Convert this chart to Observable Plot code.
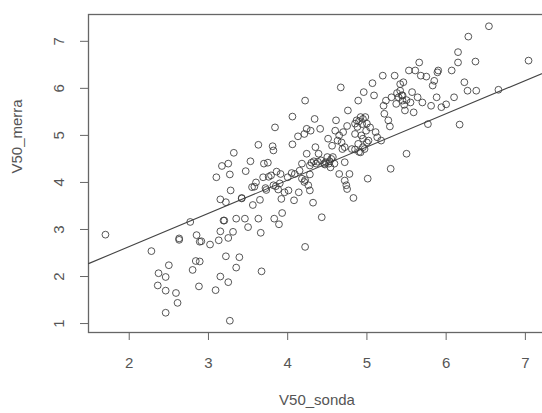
<!DOCTYPE html>
<html>
<head>
<meta charset="utf-8">
<script src="https://cdn.jsdelivr.net/npm/d3@7"></script>
<script src="https://cdn.jsdelivr.net/npm/@observablehq/plot@0.6"></script>
<style>
  html, body { margin: 0; padding: 0; background: #fff; overflow: hidden; }
  #chart { width: 542px; height: 413px; overflow: hidden; }
  #chart svg { overflow: hidden; }
</style>
</head>
<body>
<div id="chart"></div>
<script>
// V50_sonda (x) values
const sonda = [
  1.70, 2.28, 2.37, 2.46, 2.50, 2.36, 2.46, 2.46, 2.59, 2.61,
  2.63, 2.63, 2.77, 2.85, 2.89, 2.91, 2.80, 2.84, 2.89, 2.88,
  3.02, 3.10, 3.13, 3.15, 3.15, 3.17, 3.15, 3.09, 3.19, 3.20,
  3.22, 3.25, 3.27, 3.22, 3.25, 3.25, 3.28, 3.31, 3.27, 3.32,
  3.35, 3.35, 3.39, 3.42, 3.42, 3.46, 3.47, 3.50, 3.53, 3.56,
  3.58, 3.63, 3.63, 3.65, 3.66, 3.67, 3.69, 3.70, 3.73, 3.75,
  3.79, 3.81, 3.82, 3.84, 3.83, 3.82, 3.86, 3.88, 3.89, 3.91,
  3.93, 3.92, 3.96, 4.00, 4.01, 4.06, 4.06, 4.08, 4.09, 4.13,
  4.14, 4.18, 4.21, 4.21, 4.22, 4.22, 4.24, 4.24, 4.26, 4.28,
  4.28, 4.28, 4.29, 4.32, 4.34, 4.35, 4.36, 4.39, 4.41, 4.43,
  4.46, 4.48, 4.50, 4.51, 4.52, 4.54, 4.56, 4.57, 4.59, 4.61,
  4.63, 4.65, 4.67, 4.69, 4.70, 4.72, 4.72, 4.74, 4.75, 4.76,
  4.78, 4.81, 4.83, 4.85, 4.87, 4.89, 4.89, 4.92, 4.92, 4.94,
  4.95, 4.96, 4.97, 4.98, 4.99, 5.01, 5.02, 5.04, 5.07, 5.09,
  5.11, 5.13, 5.18, 5.20, 5.21, 5.22, 5.24, 5.27, 5.29, 5.30,
  5.31, 5.35, 5.37, 5.40, 5.42, 5.44, 5.45, 5.46, 5.48, 5.50,
  5.53, 5.57, 5.59, 5.61, 5.64, 5.66, 5.68, 5.70, 5.75, 5.77,
  5.81, 5.83, 5.85, 5.88, 5.90, 5.89, 5.94, 6.00, 6.07, 6.10,
  6.15, 6.15, 6.17, 6.23, 6.27, 6.28, 6.37, 6.38, 6.54, 6.66,
  7.04,
  4.30, 4.33, 4.38, 4.42, 4.47, 4.53, 4.55,
  4.85, 4.90, 4.95, 5.00, 4.88, 4.93, 5.00, 4.95, 4.90, 4.85,
  5.38, 5.42, 5.45, 5.50, 5.47, 5.55,
  4.18, 4.22, 4.15, 4.05,
  3.55, 3.60, 3.72, 3.76, 3.85, 3.90,
  4.65, 4.68, 4.72, 4.75, 4.60
];
// V50_merra (y) values
const merra = [
  2.89, 2.54, 2.07, 1.99, 2.24, 1.81, 1.70, 1.23, 1.65, 1.44,
  2.81, 2.78, 3.16, 2.88, 2.74, 2.75, 2.14, 2.33, 2.32, 1.79,
  2.68, 4.11, 2.77, 2.96, 3.64, 4.35, 2.00, 1.71, 3.19, 3.19,
  3.58, 4.40, 4.17, 2.43, 2.82, 1.88, 3.83, 2.95, 1.06, 4.63,
  2.19, 3.23, 2.41, 3.67, 3.66, 3.23, 4.24, 3.05, 4.45, 3.52,
  3.91, 4.80, 3.23, 3.63, 2.93, 2.11, 4.11, 4.40, 3.84, 4.42,
  4.15, 4.77, 4.68, 5.17, 3.23, 3.94, 4.23, 3.85, 3.11, 4.18,
  3.35, 3.65, 3.79, 4.11, 3.83, 4.81, 5.40, 3.62, 4.18, 4.98,
  3.79, 4.40, 5.03, 4.01, 5.74, 2.63, 5.14, 4.61, 3.94, 3.83,
  4.36, 4.17, 5.10, 3.57, 5.35, 4.75, 4.40, 4.61, 5.14, 3.26,
  4.40, 4.43, 4.54, 4.93, 4.40, 4.32, 4.78, 4.54, 4.40, 5.32,
  4.89, 4.18, 6.02, 4.71, 5.07, 4.43, 4.04, 3.94, 3.86, 5.53,
  4.18, 4.71, 3.67, 5.03, 5.32, 5.74, 4.82, 5.39, 4.64, 5.24,
  4.93, 5.92, 4.71, 5.39, 5.10, 4.08, 4.89, 5.17, 6.11, 5.85,
  5.07, 4.96, 4.89, 6.27, 5.63, 5.46, 5.74, 5.32, 5.19, 4.29,
  5.81, 6.27, 5.67, 5.81, 6.09, 5.85, 5.74, 6.13, 5.53, 4.61,
  6.38, 5.92, 5.49, 6.38, 5.81, 6.55, 6.27, 5.70, 6.25, 5.24,
  5.63, 6.06, 6.16, 5.81, 6.38, 6.34, 5.60, 5.66, 6.38, 5.81,
  6.77, 6.55, 5.23, 6.13, 5.95, 7.10, 6.57, 5.95, 7.32, 5.97,
  6.59,
  4.42, 4.45, 4.44, 4.47, 4.38, 4.45, 4.50,
  5.25, 5.30, 5.35, 5.25, 5.18, 5.00, 4.85, 4.75, 4.65, 4.70,
  5.90, 5.95, 5.85, 5.75, 5.65, 5.70,
  4.08, 4.05, 4.25, 4.20,
  3.90, 4.00, 3.88, 4.12, 3.92, 3.98,
  5.00, 4.85, 4.75, 5.20, 5.10
];
// fitted line (abline) coefficients
const lineCoef = [1.225, 0.706]; // intercept, slope
const xTicks = [2, 3, 4, 5, 6, 7];
const yTicks = [1, 2, 3, 4, 5, 6, 7];
const xTitle = "V50_sonda";
const yTitle = "V50_merra";

const points = sonda.map((x, i) => ({x, y: merra[i]}));
const xDomain = [1.486, 7.254];
const yDomain = [0.81, 7.57];
const fit = xDomain.map(x => ({x, y: lineCoef[0] + lineCoef[1] * x}));

const font = "'Liberation Sans', Arial, Helvetica, sans-serif";
const ink = "#555";

const chart = Plot.plot({
  width: 542,
  height: 413,
  marginLeft: 88,
  marginRight: -3,
  marginTop: 14,
  marginBottom: 81,
  style: {fontFamily: font, fontSize: "15px", color: ink, background: "#fff"},
  x: {domain: xDomain},
  y: {domain: yDomain},
  marks: [
    Plot.frame({stroke: "#666", strokeWidth: 1.3}),
    Plot.axisX({ticks: xTicks, tickFormat: d => String(d), tickSize: 8, tickPadding: 17, stroke: "#666", fill: ink, fontSize: 15, label: null}),
    Plot.axisY({ticks: yTicks, tickSize: 8, text: null, stroke: "#666", label: null}),
    Plot.text(yTicks, {y: d => d, frameAnchor: "left", dx: -29, text: d => String(d), rotate: -90, lineAnchor: "middle", textAnchor: "middle", fontSize: 15, fill: ink}),
    Plot.text([xTitle], {frameAnchor: "bottom", dy: 68, text: d => d, fontSize: 15, fill: ink, lineAnchor: "middle"}),
    Plot.text([yTitle], {frameAnchor: "left", dx: -71, text: d => d, rotate: -90, fontSize: 15, fill: ink, lineAnchor: "middle"}),
    Plot.line(fit, {x: "x", y: "y", stroke: "#444", strokeWidth: 1.1}),
    Plot.dot(points, {x: "x", y: "y", r: 3.4, stroke: "#3a3a3a", strokeWidth: 1, fill: "none", strokeOpacity: 0.85})
  ]
});
document.getElementById("chart").append(chart);
</script>
</body>
</html>
